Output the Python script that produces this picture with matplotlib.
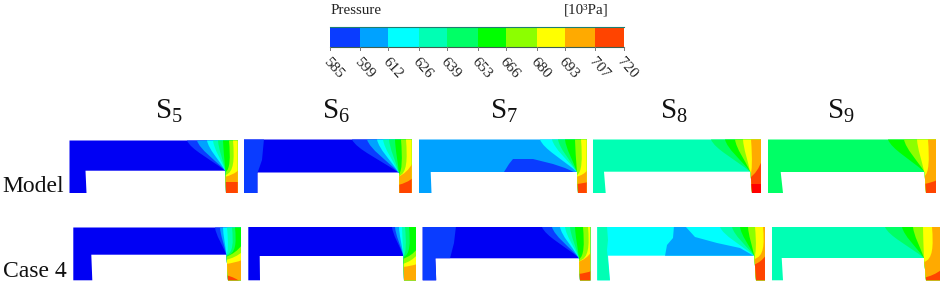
import matplotlib
matplotlib.use("Agg")
import matplotlib.pyplot as plt
from matplotlib.patches import PathPatch, Polygon
from matplotlib.path import Path

plt.rcParams["font.family"] = ["Liberation Serif", "DejaVu Serif"]
plt.rcParams["mathtext.fontset"] = "custom"
plt.rcParams["mathtext.rm"] = "Liberation Serif"

# colour bar
PRESSURE_TICKS = [585, 599, 612, 626, 639, 653, 666, 680, 693, 707, 720]
# band colours, 0 is the deep blue and 11 the pure red seen only in the panels
BANDS = ["#0000f4", "#0a3cff", "#00a2ff", "#00ffff", "#00ffb4", "#00ff66",
         "#00ff00", "#8cff00", "#ffff00", "#ffaa00", "#ff4400", "#ff0000"]

COLUMNS = ["5", "6", "7", "8", "9"]
ROWS = ["Model", "Case 4"]

# panel outline: left, right, top, bottom, channel floor,
# left leg inner x (top, bottom), right leg inner x (top, bottom)
MODEL_BOX = [(69.5, 237.7, 140.5, 193, 170.7, 85.5, 86.5, 225.5, 226),
             (244, 411.7, 139.5, 193, 172.5, 257.5, 257.5, 399, 399.5),
             (419, 586.7, 139.5, 193, 172, 430.7, 431.5, 577, 578),
             (593, 761, 139.5, 193, 171.7, 604, 605.7, 750.5, 752),
             (768, 936, 139.5, 193, 172, 780.7, 783, 924.5, 926)]
CASE_BOX = [(73.3, 241, 227.5, 280.3, 254.7, 91.3, 92.3, 226.5, 228),
            (248.3, 416, 227, 280.3, 256, 259.7, 260, 403.5, 404),
            (422.7, 590.3, 227, 280.3, 258.3, 435.3, 436.3, 579, 580),
            (597.3, 765, 227, 280.3, 255.7, 608, 610, 754.3, 756),
            (772, 940, 227, 280.3, 258, 781.7, 783, 924, 926)]

MODEL_BASE = [0, 0, 2, 4, 5]
CASE_BASE = [0, 0, 0, 3, 4]

# contours leaving the top wall: band, x on top wall, y where they hit the leg
MODEL_TOP = [
    [(1, 187, 171), (2, 197, 171), (3, 207, 171), (4, 213, 171), (5, 218, 171),
     (6, 223, 171), (7, 229, 172), (8, 233, 175)],
    [(1, 352, 173), (2, 367, 173), (3, 377, 173), (4, 383, 173), (5, 389, 173),
     (6, 395, 173), (7, 401, 174), (8, 406, 176)],
    [(3, 540, 172), (4, 552, 172), (5, 558, 172), (6, 565, 172), (7, 575, 173),
     (8, 581, 175)],
    [(5, 711, 172), (6, 725, 172), (7, 735, 172), (8, 743, 173), (9, 751, 175)],
    [(6, 888, 172), (7, 904, 172), (8, 917, 173), (9, 928, 176)],
]
CASE_TOP = [
    [(1, 215, 255), (2, 220, 255), (3, 223, 255), (4, 227, 255), (5, 232, 255),
     (6, 235, 256)],
    [(1, 392, 256), (2, 395, 256), (3, 399, 256), (4, 402, 256), (5, 405, 256),
     (6, 409, 257)],
    [(1, 542, 258), (2, 552, 258), (3, 560, 258), (4, 565, 258), (5, 570, 258),
     (6, 575, 258), (7, 583, 259), (8, 588, 261)],
    [(4, 720, 256), (5, 732, 256), (6, 740, 256), (7, 748, 256), (8, 755, 257),
     (9, 763, 259)],
    [(5, 885, 258), (6, 902, 258), (7, 913, 258), (8, 923, 259), (9, 932, 262)],
]

# contours crossing the right leg: band, y on outer wall, y on inner wall
MODEL_LEG = [
    [(9, 170, 177), (10, 182, 182)],
    [(9, 163, 177), (10, 178, 185)],
    [(9, 170, 177), (10, 182, 184)],
    [(10, 160, 178), (11, 184, 184)],
    [(10, 180, 184)],
]
CASE_LEG = [
    [(7, 245, 257), (8, 252, 260), (9, 260, 264), (10, 283, 275)],
    [(7, 249, 259), (8, 255, 264), (9, 264, 267)],
    [(9, 252, 262), (10, 271, 274)],
    [(10, 255, 265)],
    [(10, 270, 278)],
]

# patches of another band inside a panel: (row, column, band, outline)
S6_MODEL_LEFT = [(240, 139), (264, 139), (262, 160), (257.5, 173), (257.5, 195), (240, 195)]
S7_MODEL_POOL = [(504, 172), (509, 164), (513, 159), (533, 159), (553, 164), (565, 168), (575, 172.5)]
S7_CASE_LEFT = [(418, 226), (456, 226), (454, 243), (450, 258.5), (436, 258.5), (436, 282), (418, 282)]
S8_CASE_LEFT = [(593, 226), (607, 226), (608, 240), (607, 250), (610, 282), (593, 282)]
S8_CASE_POOL = [(665, 256), (667, 245), (673, 238), (674, 226), (685, 226), (695, 237),
                (717, 243), (740, 248), (754, 256)]
PATCHES = [(0, 1, 1, S6_MODEL_LEFT), (0, 2, 1, S7_MODEL_POOL), (1, 2, 1, S7_CASE_LEFT),
           (1, 3, 4, S8_CASE_LEFT), (1, 3, 2, S8_CASE_POOL)]

fig = plt.figure(figsize=(9.41, 2.82), dpi=100)
ax = fig.add_axes([0, 0, 1, 1])
ax.set_xlim(0, 941)
ax.set_ylim(282, 0)
ax.axis("off")


def add_band(verts, codes, band, clip):
    p = PathPatch(Path(verts, codes), facecolor=BANDS[band], edgecolor="none", lw=0)
    ax.add_patch(p)
    p.set_clip_path(clip)


def draw_panel(box, base, tops, legs, extras):
    left, right, top, bottom, floor, ll_t, ll_b, rl_t, rl_b = box
    outline = [(left, top), (right, top), (right, bottom), (rl_b, bottom), (rl_t, floor),
               (ll_t, floor), (ll_b, bottom), (left, bottom)]
    clip = Polygon(outline, closed=True, facecolor=BANDS[base], edgecolor="none", lw=0)
    ax.add_patch(clip)

    for band, pts in extras:
        codes = [Path.MOVETO] + [Path.LINETO] * (len(pts) - 1) + [Path.CLOSEPOLY]
        add_band(pts + [pts[0]], codes, band, clip)

    # top wall contours converging on the corner, the ones past the corner
    # drop straight down and hook back under it
    for band, x, y_end in tops:
        dx = rl_t - x
        h = y_end - top
        if dx > 0:
            c1 = (x + 0.1 * dx, top + 0.3 * h)
            c2 = (x + 0.6 * dx, top + 0.6 * h)
        else:
            c1 = (x + 1.5, top + 0.55 * h)
            c2 = (x + 1, y_end - 0.08 * h)
        verts = [(x, top), c1, c2, (rl_t, y_end), (rl_t - 3, bottom + 5), (right + 5, bottom + 5),
                 (right + 5, top - 5), (x, top - 5), (x, top)]
        codes = [Path.MOVETO, Path.CURVE4, Path.CURVE4, Path.CURVE4,
                 Path.LINETO, Path.LINETO, Path.LINETO, Path.LINETO, Path.CLOSEPOLY]
        add_band(verts, codes, band, clip)

    # right leg contours, everything below them is the higher band
    for band, y_out, y_in in legs:
        mid = (rl_t + right) / 2
        verts = [(right + 1, y_out), (mid + 2, y_out + 0.7 * (y_in - y_out)), (rl_t - 1, y_in),
                 (rl_t - 3, bottom + 5), (right + 1, bottom + 5), (right + 1, y_out)]
        codes = [Path.MOVETO, Path.CURVE3, Path.CURVE3, Path.LINETO, Path.LINETO, Path.CLOSEPOLY]
        add_band(verts, codes, band, clip)


for row, (boxes, bases, tops, legs) in enumerate([(MODEL_BOX, MODEL_BASE, MODEL_TOP, MODEL_LEG),
                                                  (CASE_BOX, CASE_BASE, CASE_TOP, CASE_LEG)]):
    for col in range(len(COLUMNS)):
        extras = [(b, pts) for r, c, b, pts in PATCHES if r == row and c == col]
        draw_panel(boxes[col], bases[col], tops[col], legs[col], extras)

# colour bar, pressure mapped on to its pixel span
BAR_X0, BAR_X1, BAR_Y0, BAR_Y1 = 329.7, 623.7, 26.5, 46.5
to_x = lambda v: BAR_X0 + (v - PRESSURE_TICKS[0]) / (PRESSURE_TICKS[-1] - PRESSURE_TICKS[0]) * (BAR_X1 - BAR_X0)
for i in range(len(PRESSURE_TICKS) - 1):
    x0, x1 = to_x(PRESSURE_TICKS[i]), to_x(PRESSURE_TICKS[i + 1])
    ax.bar(x0, BAR_Y1 - BAR_Y0, width=x1 - x0, bottom=BAR_Y0, align="edge",
           color=BANDS[i + 1], lw=0)
ax.plot([BAR_X0, BAR_X1], [BAR_Y0, BAR_Y0], color="#1c7f70", lw=0.8)
ax.plot([BAR_X0, BAR_X1], [BAR_Y1, BAR_Y1], color="#3f5f50", lw=0.8)
for v in PRESSURE_TICKS:
    ax.plot([to_x(v), to_x(v)], [BAR_Y1, 49.5], color="#777777", lw=0.7)
    ax.text(to_x(v) - 4, 60, str(v), rotation=-48, rotation_mode="anchor",
            ha="left", va="center", fontsize=11, color="#222222")

ax.text(330.5, 14, "Pressure", fontsize=10.8, color="#222222", va="baseline")
ax.text(564, 14, "[10³Pa]", fontsize=10.8, color="#222222", va="baseline")

# column and row labels
for x, c in zip([155, 322.5, 490, 660, 827], COLUMNS):
    ax.text(x, 118.5, r"$\mathrm{S}_{%s}$" % c, fontsize=21, color="#111111", va="baseline")
ax.text(2, 192.5, ROWS[0], fontsize=17, color="#111111", va="baseline")
ax.text(3, 277, ROWS[1], fontsize=17, color="#111111", va="baseline")

fig.savefig("out.png", dpi=100)
